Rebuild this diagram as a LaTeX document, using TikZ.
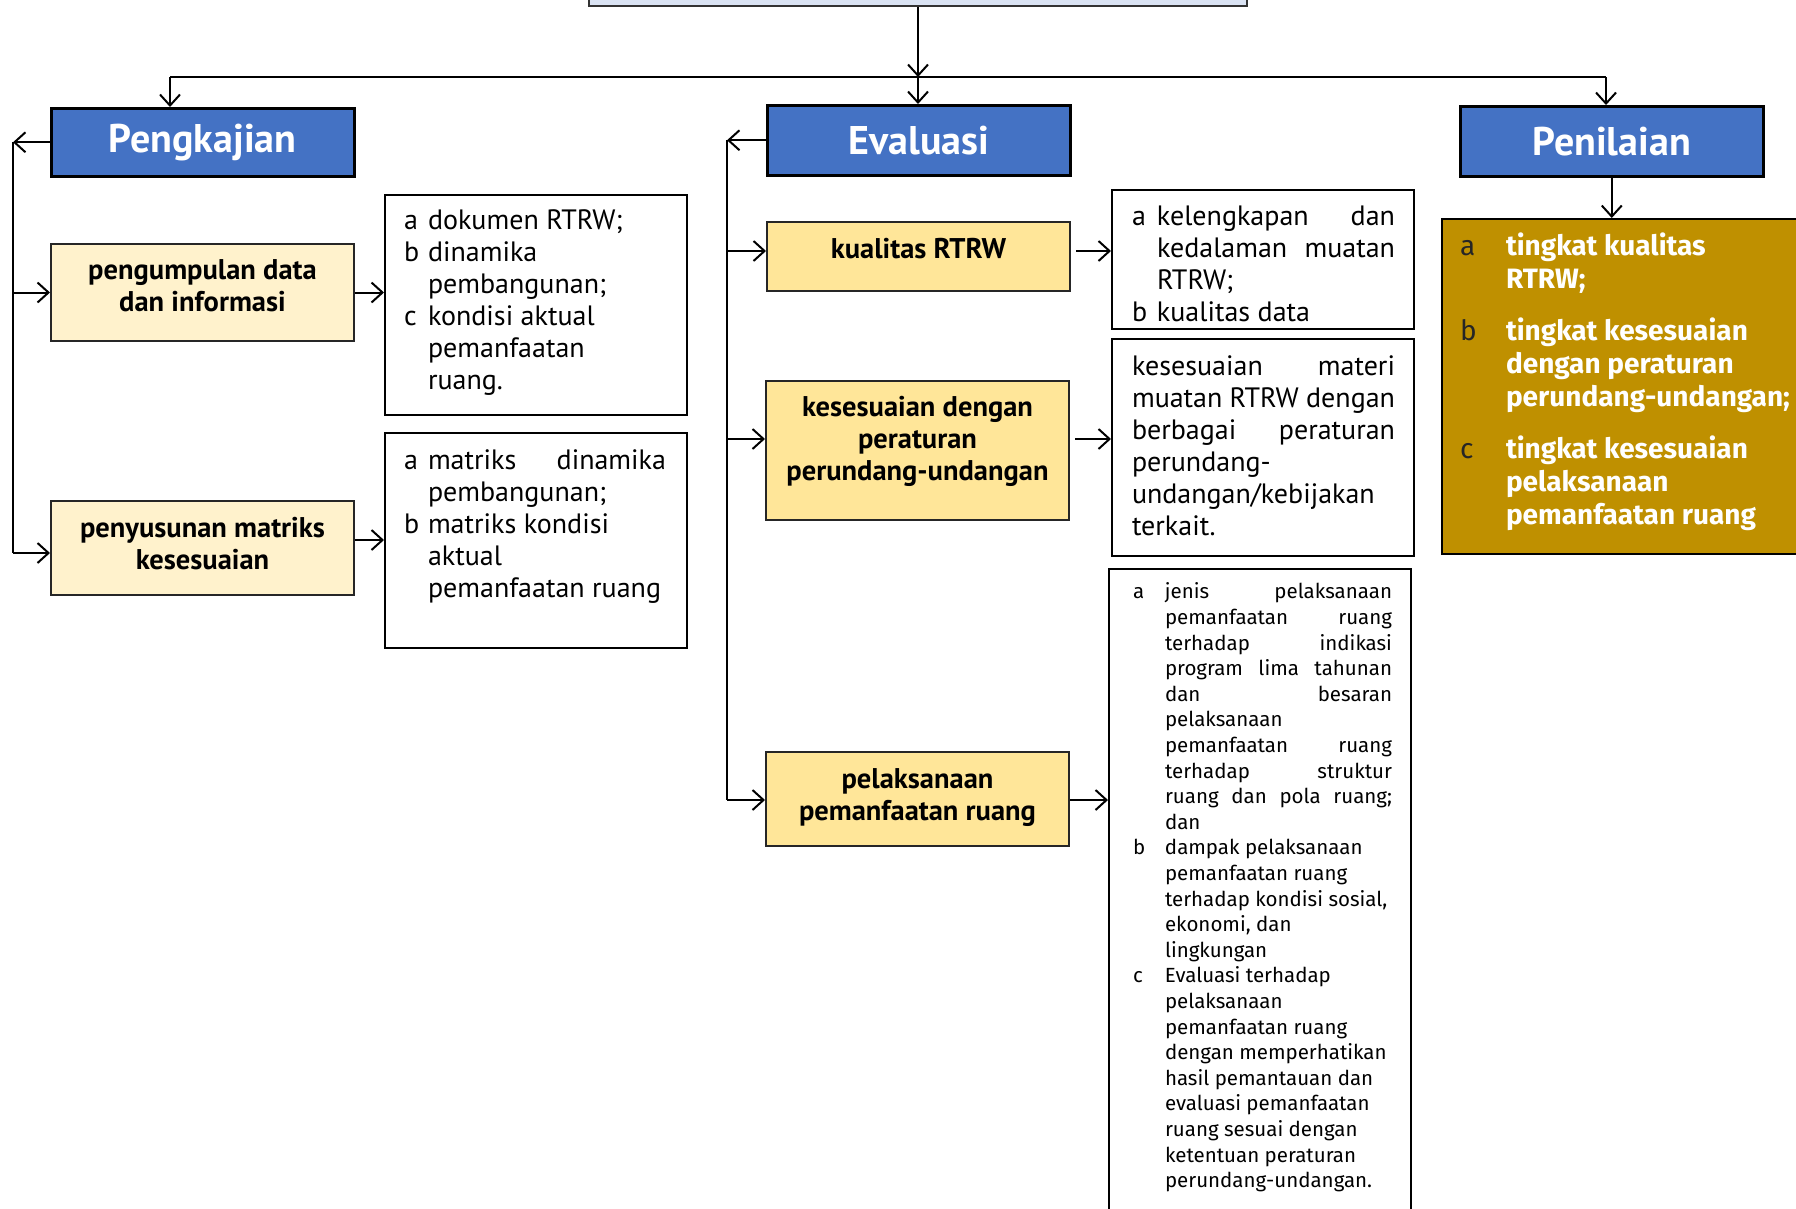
\documentclass[tikz,border=0pt]{standalone}
\usepackage{fontspec}
\usetikzlibrary{arrows.meta,calc}
\newfontfamily\narrowsans{PT Sans}
\newfontfamily\firasans{Fira Sans}
\definecolor{hdrblue}{HTML}{4472C4}
\definecolor{paleyellow}{HTML}{FFF2CC}
\definecolor{midyellow}{HTML}{FFE699}
\definecolor{goldfill}{HTML}{BF9000}
\definecolor{topfill}{HTML}{DAE3F3}
% move ink up without changing the reported box size
\newcommand\lift[2]{\raisebox{#1}[\height][\depth]{#2}}
% a justified line of a given width
\newcommand\jl[2]{\makebox[#1][s]{#2}}
% item letter in the gold panel
\newcommand\gl[1]{\makebox[46pt][l]{\mdseries\color{black!85}#1}}
\begin{document}
\begin{tikzpicture}[x=1pt,y=-1pt,line width=2pt,
  arr/.style={-{Straight Barb[length=11pt,width=20pt]}},
  hdr/.style={draw=black,line width=2.5pt,fill=hdrblue,text=white,
    font=\narrowsans\bfseries\fontsize{40}{44}\selectfont,
    minimum width=303pt,inner sep=0pt,anchor=north west},
  stage/.style={draw=black!85,line width=2pt,inner sep=0pt,anchor=north west,
    minimum width=303pt,align=center,
    font=\narrowsans\bfseries\fontsize{28.5}{32}\selectfont},
  panel/.style={draw=black,line width=2pt,inner sep=0pt,anchor=north west,
    minimum width=302pt},
  txt/.style={inner sep=0pt,anchor=north west,
    font=\narrowsans\fontsize{28}{32}\selectfont}]
\useasboundingbox (0,0) rectangle (1796,1208);

% top box (mostly above the page)
\node[draw=black!80,fill=topfill,line width=2pt,anchor=south west,
  minimum width=658pt,minimum height=60pt] (top) at (588,7) {};

% three main headers
\node[hdr,minimum height=68pt] (pk) at (50,107) {Pengkajian};
\node[hdr,minimum height=70pt] (ev) at (766,104) {Evaluasi};
\node[hdr,minimum height=70pt] (pn) at (1459,105) {Penilaian};

% Pengkajian steps
\node[stage,fill=paleyellow,minimum height=97pt] (pg) at (50,243)
  {\lift{3pt}{\begin{tabular}{@{}c@{}}pengumpulan data\\dan informasi\end{tabular}}};
\node[stage,fill=paleyellow,minimum height=94pt] (pm) at (50,500)
  {\lift{1pt}{\begin{tabular}{@{}c@{}}penyusunan matriks\\kesesuaian\end{tabular}}};

% Evaluasi steps
\node[stage,fill=midyellow,minimum height=69pt] (kq) at (766,221)
  {\lift{8pt}{kualitas RTRW}};
\node[stage,fill=midyellow,minimum height=139pt] (ks) at (765,380)
  {\lift{8pt}{\begin{tabular}{@{}c@{}}kesesuaian dengan\\peraturan\\perundang-undangan\end{tabular}}};
\node[stage,fill=midyellow,minimum height=94pt] (pl) at (765,751)
  {\lift{1pt}{\begin{tabular}{@{}c@{}}pelaksanaan\\pemanfaatan ruang\end{tabular}}};

% detail panels
\node[panel,minimum height=220pt] (t1) at (384,194) {};
\node[txt] (t1x) at ($(t1.north west)+(19,12)$)
  {\begin{tabular}{@{}p{24pt}@{}l@{}}
   a & dokumen RTRW;\\
   b & dinamika\\
     & pembangunan;\\
   c & kondisi aktual\\
     & pemanfaatan\\
     & ruang.
   \end{tabular}};

\node[panel,minimum height=215pt] (t2) at (384,432) {};
\node[txt] (t2x) at ($(t2.north west)+(19,14)$)
  {\begin{tabular}{@{}p{24pt}@{}l@{}}
   a & \jl{238pt}{matriks dinamika}\\
     & pembangunan;\\
   b & matriks kondisi\\
     & aktual\\
     & pemanfaatan ruang
   \end{tabular}};

\node[panel,minimum height=139pt] (t3) at (1111,189) {};
\node[txt] (t3x) at ($(t3.north west)+(20,13)$)
  {\begin{tabular}{@{}p{25pt}@{}l@{}}
   a & \jl{238pt}{kelengkapan dan}\\
     & \jl{238pt}{kedalaman muatan}\\
     & RTRW;\\
   b & kualitas data
   \end{tabular}};

\node[panel,minimum height=217pt] (t4) at (1111,338) {};
\node[txt] (t4x) at ($(t4.north west)+(20,14)$)
  {\begin{tabular}{@{}l@{}}
   \jl{263pt}{kesesuaian materi}\\
   \jl{263pt}{muatan RTRW dengan}\\
   \jl{263pt}{berbagai peraturan}\\
   perundang-\\
   undangan/kebijakan\\
   terkait.
   \end{tabular}};

\node[panel,minimum height=700pt] (t5) at (1108,568) {};
\node[txt,font=\firasans\fontsize{20.5}{25.6}\selectfont] (t5x)
  at ($(t5.north west)+(24,12)$)
  {\begin{tabular}{@{}p{32pt}@{}l@{}}
   a & \jl{227pt}{jenis pelaksanaan}\\
     & \jl{227pt}{pemanfaatan ruang}\\
     & \jl{227pt}{terhadap indikasi}\\
     & \jl{227pt}{program lima tahunan}\\
     & \jl{227pt}{dan besaran}\\
     & pelaksanaan\\
     & \jl{227pt}{pemanfaatan ruang}\\
     & \jl{227pt}{terhadap struktur}\\
     & \jl{227pt}{ruang dan pola ruang;}\\
     & dan\\
   b & dampak pelaksanaan\\
     & pemanfaatan ruang\\
     & terhadap kondisi sosial,\\
     & ekonomi, dan\\
     & lingkungan\\
   c & Evaluasi terhadap\\
     & pelaksanaan\\
     & pemanfaatan ruang\\
     & dengan memperhatikan\\
     & hasil pemantauan dan\\
     & evaluasi pemanfaatan\\
     & ruang sesuai dengan\\
     & ketentuan peraturan\\
     & perundang-undangan.
   \end{tabular}};

% Penilaian result panel
\node[panel,fill=goldfill,minimum width=400pt,minimum height=335pt] (gd) at (1441,218) {};
\node[txt,text=white,font=\firasans\bfseries\fontsize{28}{33}\selectfont] (gdx)
  at ($(gd.north west)+(18,13)$)
  {\begin{tabular}{@{}l@{}l@{}}
   \gl{a} & tingkat kualitas\\
          & RTRW;\\[19pt]
   \gl{b} & tingkat kesesuaian\\
          & dengan peraturan\\
          & perundang-undangan;\\[19pt]
   \gl{c} & tingkat kesesuaian\\
          & pelaksanaan\\
          & pemanfaatan ruang
   \end{tabular}};

% distribution from the top box
\coordinate (hrow) at (0,77);
\coordinate (J) at (top.south |- hrow);
\coordinate (HL) at (170,77);
\coordinate (HR) at (1606,77);
\draw[arr] (top.south) -- (J);
\draw (HL) -- (HR);
\draw[arr] (J) -- (J |- ev.north);
\draw[arr] (HL) -- (HL |- pk.north);
\draw[arr] (HR) -- (HR |- pn.north);
\draw[arr] (pn.south) -- (pn.south |- gd.north);

% Pengkajian rail
\coordinate (railL) at (13,0);
\coordinate (railLend) at (13,553);
\draw[arr] (pk.west) -- (pk.west -| railL);
\draw (pk.west -| railL) -- (railLend);
\draw[arr] (railL |- pg.west) -- (pg.west);
\draw[arr] (railLend) -- (railLend -| pm.west);
\draw[arr] (pg.east) -- (pg.east -| t1.west);
\coordinate (pmout) at (0,540);
\draw[arr] (pmout -| pm.east) -- (pmout -| t2.west);

% Evaluasi rail
\coordinate (railE) at (727,0);
\coordinate (r1) at (727,251);
\coordinate (r2) at (727,439);
\coordinate (r3) at (727,800);
\draw[arr] (ev.west) -- (ev.west -| railE);
\draw (ev.west -| railE) -- (r3);
\draw[arr] (r1) -- (r1 -| kq.west);
\draw[arr] (r2) -- (r2 -| ks.west);
\draw[arr] (r3) -- (r3 -| pl.west);
\draw[arr] ([xshift=5pt]r1 -| kq.east) -- (r1 -| t3.west);
\draw[arr] ([xshift=5pt]r2 -| ks.east) -- (r2 -| t4.west);
\draw[arr] (r3 -| pl.east) -- (r3 -| t5.west);
\end{tikzpicture}
\end{document}
